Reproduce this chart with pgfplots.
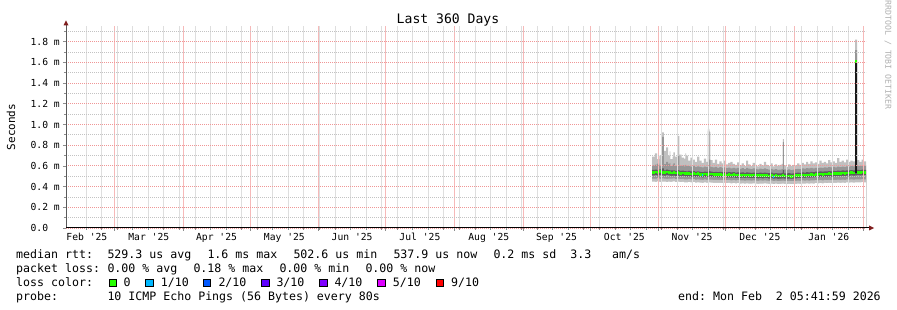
\documentclass[border=0pt]{standalone}
\usepackage{pgfplots}
\pgfplotsset{compat=1.18}
\usepackage{pgfplotstable}
\usepackage{fontspec}
\setmonofont{DejaVu Sans Mono}
\definecolor{majred}{RGB}{240,150,150}
\definecolor{mingray}{RGB}{195,195,195}
\definecolor{vmajred}{RGB}{246,185,185}
\definecolor{vmingray}{RGB}{222,222,222}
\definecolor{smokeA}{RGB}{192,192,192}
\definecolor{smokeB}{RGB}{150,150,150}
\definecolor{smokeC}{RGB}{92,92,92}
\definecolor{loss0}{HTML}{26FF00}
\definecolor{loss1}{HTML}{00B8FF}
\definecolor{loss2}{HTML}{0059FF}
\definecolor{loss3}{HTML}{5E00FF}
\definecolor{loss4}{HTML}{7E00FF}
\definecolor{loss5}{HTML}{DD00FF}
\definecolor{loss9}{HTML}{FF0000}
\definecolor{arrowred}{RGB}{128,30,30}
\newcommand\lgf{\ttfamily\fontsize{11.6bp}{14bp}\selectfont}
\newcommand\tkf{\ttfamily\fontsize{9.7bp}{11bp}\selectfont}
\newcommand\yl[1]{\makebox[29.2bp][l]{#1}}

% days since 2025-02-07 05:42 ; values in ms
\pgfplotstableread{
x lo1 lo2 lo3 med hi3 hi2 hi1
263.7 0.447 0.478 0.508 0.538 0.561 0.605 0.690
265 0.445 0.476 0.511 0.541 0.563 0.612 0.720
266 0.450 0.481 0.507 0.536 0.558 0.622 0.665
267 0.443 0.475 0.513 0.544 0.567 0.603 0.700
268 0.447 0.479 0.509 0.539 0.561 0.615 0.690
268.3 0.447 0.479 0.509 0.539 0.575 0.880 0.925
269 0.449 0.477 0.506 0.535 0.557 0.617 0.745
270 0.444 0.474 0.511 0.541 0.564 0.640 0.780
271 0.448 0.478 0.508 0.537 0.559 0.620 0.700
271.6 0.446 0.476 0.505 0.535 0.558 0.630 0.740
272 0.446 0.476 0.504 0.533 0.556 0.598 0.665
273 0.450 0.479 0.507 0.536 0.558 0.612 0.690
273.3 0.450 0.479 0.507 0.536 0.558 0.625 0.730
274 0.444 0.473 0.502 0.530 0.553 0.600 0.690
275 0.447 0.477 0.505 0.534 0.556 0.610 0.660
275.2 0.447 0.477 0.505 0.534 0.560 0.700 0.890
276 0.443 0.472 0.500 0.528 0.551 0.600 0.710
277 0.446 0.475 0.503 0.531 0.554 0.605 0.680
278 0.442 0.471 0.498 0.526 0.549 0.595 0.670
278.7 0.442 0.471 0.498 0.526 0.549 0.610 0.720
279 0.441 0.470 0.497 0.524 0.548 0.600 0.700
280 0.444 0.473 0.500 0.528 0.551 0.598 0.650
281 0.440 0.469 0.495 0.522 0.546 0.592 0.680
282 0.443 0.472 0.498 0.525 0.549 0.600 0.660
283 0.439 0.468 0.494 0.521 0.545 0.590 0.640
284 0.442 0.471 0.497 0.524 0.548 0.596 0.690
285 0.438 0.467 0.492 0.519 0.543 0.590 0.650
286 0.436 0.465 0.490 0.516 0.541 0.585 0.630
287 0.440 0.469 0.495 0.521 0.545 0.594 0.670
288 0.437 0.466 0.492 0.518 0.542 0.588 0.640
288.8 0.441 0.470 0.500 0.527 0.570 0.940 0.957
289.5 0.440 0.468 0.496 0.522 0.550 0.660 0.930
290 0.438 0.467 0.494 0.520 0.544 0.590 0.655
291 0.436 0.465 0.491 0.517 0.541 0.585 0.630
292 0.437 0.466 0.493 0.519 0.543 0.590 0.660
293 0.435 0.464 0.489 0.515 0.540 0.582 0.620
294 0.437 0.466 0.492 0.518 0.542 0.588 0.645
295 0.434 0.463 0.488 0.514 0.539 0.580 0.625
296 0.436 0.465 0.491 0.517 0.541 0.585 0.650
297 0.433 0.462 0.487 0.513 0.538 0.578 0.615
298 0.435 0.464 0.490 0.516 0.540 0.584 0.630
299 0.432 0.461 0.486 0.512 0.537 0.576 0.640
300 0.434 0.463 0.489 0.515 0.539 0.582 0.620
301 0.431 0.460 0.485 0.511 0.536 0.575 0.610
302 0.433 0.462 0.487 0.513 0.538 0.580 0.635
303 0.430 0.459 0.483 0.509 0.534 0.572 0.605
304 0.432 0.461 0.486 0.512 0.537 0.578 0.625
305 0.429 0.458 0.482 0.508 0.533 0.570 0.600
306 0.432 0.461 0.487 0.513 0.538 0.580 0.650
307 0.430 0.459 0.484 0.510 0.535 0.574 0.615
308 0.428 0.457 0.481 0.507 0.532 0.568 0.600
309 0.431 0.460 0.485 0.511 0.536 0.576 0.630
310 0.429 0.458 0.482 0.508 0.533 0.571 0.610
311 0.427 0.456 0.479 0.505 0.531 0.566 0.595
312 0.430 0.459 0.483 0.509 0.534 0.573 0.620
313 0.428 0.457 0.480 0.506 0.532 0.568 0.605
314 0.431 0.460 0.484 0.510 0.535 0.575 0.640
315 0.429 0.458 0.481 0.507 0.533 0.570 0.610
316 0.426 0.455 0.478 0.504 0.530 0.565 0.600
317 0.430 0.459 0.482 0.508 0.534 0.572 0.625
318 0.425 0.454 0.476 0.502 0.528 0.563 0.595
319 0.428 0.457 0.479 0.505 0.531 0.568 0.615
320 0.424 0.453 0.475 0.501 0.527 0.562 0.600
321 0.426 0.455 0.477 0.503 0.529 0.565 0.610
322 0.429 0.458 0.480 0.506 0.532 0.570 0.620
322.6 0.429 0.458 0.480 0.508 0.560 0.830 0.860
323 0.426 0.455 0.477 0.503 0.529 0.566 0.605
324 0.424 0.453 0.475 0.501 0.527 0.562 0.590
325 0.427 0.456 0.478 0.504 0.530 0.567 0.615
326 0.423 0.452 0.474 0.500 0.526 0.560 0.600
327 0.425 0.454 0.476 0.502 0.528 0.564 0.610
328 0.427 0.456 0.480 0.506 0.532 0.568 0.605
329 0.429 0.458 0.483 0.509 0.535 0.572 0.625
330 0.426 0.455 0.481 0.507 0.533 0.570 0.610
331 0.430 0.459 0.486 0.512 0.538 0.576 0.630
332 0.428 0.457 0.484 0.510 0.536 0.573 0.615
333 0.431 0.460 0.488 0.514 0.540 0.578 0.640
334 0.429 0.458 0.486 0.512 0.538 0.575 0.620
335 0.432 0.461 0.490 0.516 0.542 0.580 0.645
336 0.430 0.459 0.488 0.514 0.540 0.577 0.625
337 0.433 0.462 0.492 0.518 0.544 0.582 0.635
338 0.431 0.460 0.490 0.516 0.542 0.579 0.620
339 0.434 0.463 0.494 0.520 0.546 0.584 0.650
340 0.432 0.461 0.492 0.518 0.544 0.581 0.630
341 0.435 0.464 0.496 0.522 0.548 0.586 0.640
342 0.433 0.462 0.494 0.520 0.546 0.583 0.625
343 0.436 0.465 0.498 0.524 0.550 0.588 0.655
344 0.434 0.463 0.496 0.522 0.548 0.585 0.635
345 0.437 0.466 0.500 0.526 0.552 0.590 0.645
346 0.435 0.464 0.498 0.524 0.550 0.587 0.630
347 0.438 0.467 0.502 0.528 0.554 0.592 0.675
348 0.436 0.465 0.500 0.526 0.552 0.589 0.640
349 0.439 0.468 0.504 0.530 0.556 0.594 0.650
350 0.437 0.466 0.502 0.528 0.554 0.591 0.635
351 0.440 0.469 0.506 0.532 0.558 0.596 0.660
352 0.438 0.467 0.504 0.530 0.556 0.593 0.640
353 0.441 0.470 0.508 0.534 0.560 0.598 0.650
354 0.439 0.468 0.506 0.532 0.558 0.595 0.645
355.1 0.440 0.470 0.508 1.607 1.600 1.720 1.820
356 0.442 0.471 0.510 0.538 0.562 0.600 0.655
357 0.440 0.469 0.508 0.536 0.560 0.598 0.640
358 0.443 0.472 0.512 0.540 0.564 0.602 0.660
359 0.441 0.470 0.510 0.538 0.562 0.600 0.645
360 0.441 0.470 0.510 0.538 0.562 0.600 0.645
}\smoke

\begin{document}
\begin{tikzpicture}
\path[use as bounding box] (0,0) rectangle (897bp,310bp);
\begin{axis}[
  at={(66bp,82bp)}, anchor=south west,
  width=800bp, height=202bp, scale only axis,
  xmin=0, xmax=360, ymin=0, ymax=1.952,
  clip=false,
  axis on top,
  axis line style={draw=none},
  tick align=outside, tick pos=left,
  xtick={21.76,52.76,82.76,113.76,143.76,174.76,205.76,235.76,266.76,296.76,327.76,358.76},
  xticklabels={},
  minor xtick={9.04,16.04,23.04,30.04,37.04,44.04,51.04,58.04,65.04,72.04,79.04,86.04,93.04,100.04,107.04,114.04,121.04,128.04,135.04,142.04,149.04,156.04,163.04,170.04,177.04,184.04,191.04,198.04,205.04,212.04,219.04,226.04,233.04,240.04,247.04,254.04,261.04,268.04,275.04,282.04,289.04,296.04,303.04,310.04,317.04,324.04,331.04,338.04,345.04,352.04,359.04},
  ytick={0,0.2,0.4,0.6,0.8,1.0,1.2,1.4,1.6,1.8},
  yticklabels={\yl{0.0},\yl{0.2 m},\yl{0.4 m},\yl{0.6 m},\yl{0.8 m},\yl{1.0 m},\yl{1.2 m},\yl{1.4 m},\yl{1.6 m},\yl{1.8 m}},
  minor ytick={0.1,0.3,0.5,0.7,0.9,1.1,1.3,1.5,1.7,1.9},
  xmajorgrids=true, ymajorgrids=true, xminorgrids=true, yminorgrids=true,
  major y grid style={draw=majred, dash pattern=on 1bp off 1bp, line width=0.9bp},
  minor y grid style={draw=mingray, dash pattern=on 1bp off 1bp, line width=0.9bp},
  major x grid style={draw=vmajred, solid, line width=0.8bp},
  minor x grid style={draw=vmingray, solid, line width=0.8bp},
  major tick length=3bp, minor tick length=2bp,
  tick style={draw=black!45, line width=0.8bp},
  ticklabel style={font=\tkf, inner sep=0pt},
  yticklabel style={anchor=east, xshift=-3bp},
  ylabel={Seconds},
  every axis y label/.style={at={(axis description cs:-0.06875,0.5)}, rotate=90, anchor=center, font=\ttfamily\fontsize{11bp}{13bp}\selectfont},
  title={Last 360 Days},
  every axis title/.style={at={(axis description cs:0.4775,1.0099)}, anchor=base, inner sep=0pt, font=\ttfamily\fontsize{13.1bp}{15bp}\selectfont},
]
\addplot[draw=none, fill=smokeA, const plot mark left] table[x=x,y=hi1]{\smoke} \closedcycle;
\addplot[draw=none, fill=smokeB, const plot mark left] table[x=x,y=hi2]{\smoke} \closedcycle;
\addplot[draw=none, fill=smokeC, const plot mark left] table[x=x,y=hi3]{\smoke} \closedcycle;
\addplot[draw=none, fill=smokeB, const plot mark left] table[x=x,y=lo3]{\smoke} \closedcycle;
\addplot[draw=none, fill=smokeA, const plot mark left] table[x=x,y=lo2]{\smoke} \closedcycle;
\addplot[draw=none, fill=white, const plot mark left] table[x=x,y=lo1]{\smoke} \closedcycle;
\addplot[black!90, line width=2bp] coordinates {(355.55,0.53) (355.55,1.60)};
\addplot[loss0, line width=2.6bp, jump mark left, mark=none] table[x=x,y=med]{\smoke};
\addplot[loss1, line width=2.6bp] coordinates {(286.0,0.505) (286.7,0.505)};
\addplot[loss1, line width=2.6bp] coordinates {(318.0,0.492) (318.6,0.492)};
% month labels (mid-month)
\begin{scope}[every node/.style={anchor=base, inner sep=0pt, font=\tkf, yshift=-13bp}]
\node at (axis cs:9.4,0) {Feb '25};
\node at (axis cs:37.26,0) {Mar '25};
\node at (axis cs:67.76,0) {Apr '25};
\node at (axis cs:98.26,0) {May '25};
\node at (axis cs:128.76,0) {Jun '25};
\node at (axis cs:159.26,0) {Jul '25};
\node at (axis cs:190.26,0) {Aug '25};
\node at (axis cs:220.76,0) {Sep '25};
\node at (axis cs:251.26,0) {Oct '25};
\node at (axis cs:281.76,0) {Nov '25};
\node at (axis cs:312.26,0) {Dec '25};
\node at (axis cs:343.26,0) {Jan '26};
\end{scope}
\end{axis}
% axes with arrows
\draw[black!65, line width=1bp] (66bp,82bp) -- (66bp,286bp);
\fill[arrowred] (63.5bp,284.5bp) -- (68.5bp,284.5bp) -- (66bp,289.5bp) -- cycle;
\draw[black, line width=1bp] (66bp,82bp) -- (869bp,82bp);
\fill[arrowred] (869bp,79.5bp) -- (869bp,84.5bp) -- (874bp,82bp) -- cycle;
% watermark
\node[rotate=-90, font=\ttfamily\fontsize{8.2bp}{9bp}\selectfont, text=gray!62, inner sep=0pt] at (888bp,255bp) {RRDTOOL / TOBI OETIKER};
% legend text
\begin{scope}[every node/.style={anchor=base west, inner sep=0pt, font=\lgf}]
\node at (16bp,51.7bp) {median rtt:};
\node at (107.3bp,51.7bp) {529.3 us avg};
\node at (207.3bp,51.7bp) {1.6 ms max};
\node at (293.3bp,51.7bp) {502.6 us min};
\node at (393.3bp,51.7bp) {537.9 us now};
\node at (493.3bp,51.7bp) {0.2 ms sd~~3.3~~~am/s};
\node at (16bp,37.7bp) {packet loss:};
\node at (107.3bp,37.7bp) {0.00 \% avg};
\node at (193.3bp,37.7bp) {0.18 \% max};
\node at (279.3bp,37.7bp) {0.00 \% min};
\node at (365.3bp,37.7bp) {0.00 \% now};
\node at (16bp,23.7bp) {loss color:};
\node at (123.3bp,23.7bp) {0};
\node at (160.7bp,23.7bp) {1/10};
\node at (218.3bp,23.7bp) {2/10};
\node at (276.3bp,23.7bp) {3/10};
\node at (334.3bp,23.7bp) {4/10};
\node at (392.7bp,23.7bp) {5/10};
\node at (451bp,23.7bp) {9/10};
\node at (16bp,9.7bp) {probe:};
\node at (107.3bp,9.7bp) {10 ICMP Echo Pings (56 Bytes) every 80s};
\node at (678bp,9.7bp) {end: Mon Feb~~2 05:41:59 2026};
\end{scope}
% loss colour swatches
\begin{scope}[every node/.style={draw=black, line width=0.7bp, minimum size=7.3bp, inner sep=0pt, anchor=south west}]
\node[fill=loss0] at (108.6bp,23bp) {};
\node[fill=loss1] at (145.3bp,23bp) {};
\node[fill=loss2] at (203bp,23bp) {};
\node[fill=loss3] at (261.3bp,23bp) {};
\node[fill=loss4] at (319.3bp,23bp) {};
\node[fill=loss5] at (377.3bp,23bp) {};
\node[fill=loss9] at (435.6bp,23bp) {};
\end{scope}
\end{tikzpicture}
\end{document}
